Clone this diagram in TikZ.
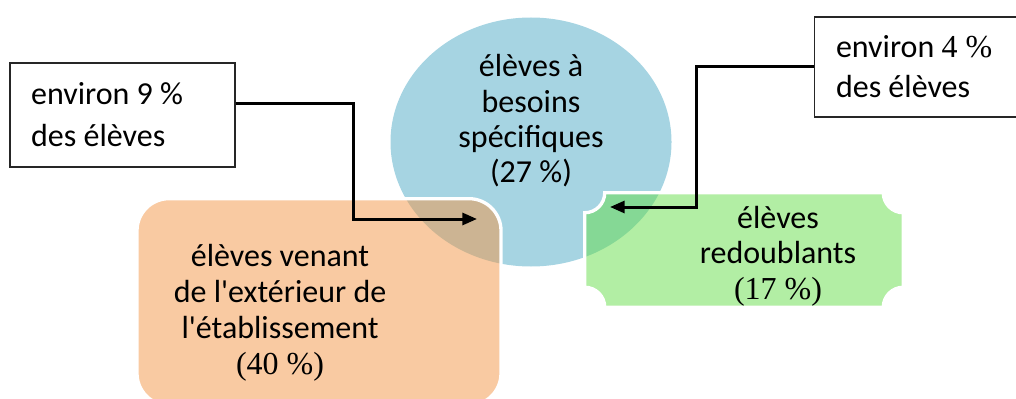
\documentclass[tikz,border=0pt]{standalone}
\usepackage{fontspec}
\setmainfont{Carlito}[Ligatures=TeXOff]
\newfontfamily\numfont{Liberation Serif}
\usetikzlibrary{positioning,shapes.geometric,arrows.meta}

\definecolor{needblue}{RGB}{166,212,226}
\definecolor{outorange}{RGB}{243,149,69}
\definecolor{redogreen}{RGB}{101,221,73}

\begin{document}
\begin{tikzpicture}[x=0.75pt, y=-0.75pt,
    grp/.style={draw=white, line width=2.5pt, fill opacity=0.5},
    txt/.style={align=center, font=\fontsize{24pt}{26.5pt}\selectfont},
    note/.style={draw=black!85, line width=1.2pt, align=flush left, inner xsep=16pt},
    arr/.style={->, >={Triangle[length=11pt,width=9pt]}, line width=2.25pt}]
    \useasboundingbox (0,0) rectangle (1016,399);
    % the three groups
    \node[ellipse, fill=needblue, inner sep=0, minimum width=210.75pt, minimum height=186.75pt] (need) at (531,142) {};
    \node[grp, fill=outorange, rounded corners=24pt, minimum width=273pt, minimum height=155pt] (outside) at (319,302) {};
    \node[minimum width=238.5pt, minimum height=85.5pt, inner sep=0] (redo) at (744,250) {};
    \draw[grp, fill=redogreen] ([xshift=15pt]redo.north west) -- ([xshift=-15pt]redo.north east)
        arc[start angle=180, end angle=270, radius=15pt] -- ([yshift=15pt]redo.south east)
        arc[start angle=90, end angle=180, radius=15pt] -- ([xshift=15pt]redo.south west)
        arc[start angle=0, end angle=90, radius=15pt] -- ([yshift=-15pt]redo.north west)
        arc[start angle=270, end angle=360, radius=15pt] -- cycle;
    \node[txt] (needtxt) at (531,121) {élèves à\\besoins\\spécifiques\\(27 \%)};
    \node[txt, font=\fontsize{24pt}{27pt}\selectfont] (outtxt) at (280,313) {élèves venant\\de l'extérieur de\\l'établissement\\{\numfont (40 \%)}};
    \node[txt] (redotxt) at (778,256) {élèves\\redoublants\\{\numfont (17 \%)}};
    % the two notes
    \node[note, text width=137pt, minimum height=78pt, font=\fontsize{24pt}{31.5pt}\selectfont] (note9) at (122.5,115) {environ 9 \%\\des élèves};
    \node[note, text width=129pt, minimum height=75pt, font=\fontsize{24pt}{30pt}\selectfont] (note4) at (922,67) {environ {\numfont 4 \%}\\des élèves};
    \coordinate (tip9) at (477,219);
    \coordinate (tip4) at (610,207);
    \draw[arr] ([yshift=8.25pt]note9.east) -- ++(118,0) |- (tip9);
    \draw[arr] (note4.west) -- ++(-117,0) |- (tip4);
\end{tikzpicture}
\end{document}
